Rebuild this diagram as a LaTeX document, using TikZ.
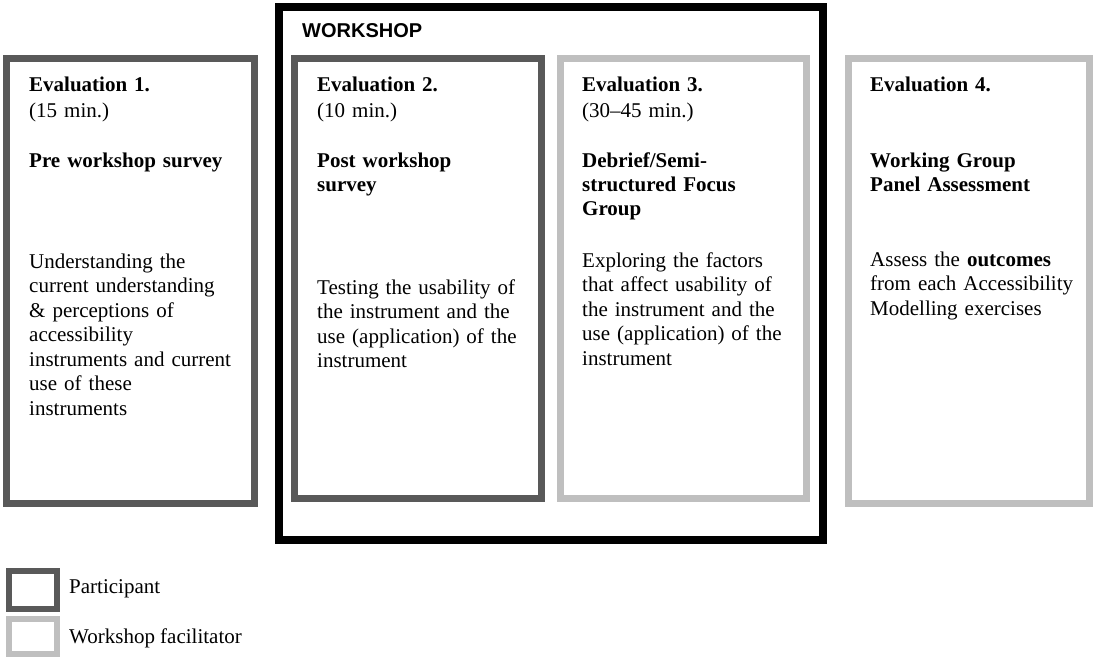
\documentclass[tikz,border=0pt]{standalone}
\usepackage{fontspec}
\setmainfont{Liberation Serif}
\newfontfamily\arialfont{Liberation Sans}
\definecolor{partc}{HTML}{595959}
\definecolor{facc}{HTML}{BFBFBF}
\begin{document}
\begin{tikzpicture}[x=1pt,y=-1pt,
  boxbase/.style={anchor=north west,inner sep=0pt,outer sep=0pt},
  partbox/.style={boxbase,draw=partc,line width=7pt},
  facbox/.style={boxbase,draw=facc,line width=7pt},
  wsbox/.style={boxbase,draw=black,line width=8pt},
  legpart/.style={boxbase,draw=partc,line width=6pt,minimum width=48pt},
  legfac/.style={boxbase,draw=facc,line width=6pt,minimum width=48pt},
  txt/.style={anchor=base west,inner sep=0pt,text width=215pt,align=left,
    font=\fontsize{21}{24.5}\selectfont},
  head/.style={txt,font=\fontsize{21}{26}\selectfont},
  title/.style={txt,font=\bfseries\fontsize{21}{24}\selectfont},
  leg/.style={anchor=base west,inner sep=0pt,font=\fontsize{21}{24.5}\selectfont},
]
\useasboundingbox (0,0) rectangle (1096,657);
\fill[white] (0,0) rectangle (1096,657);

% workshop frame
\node[wsbox,minimum width=544pt,minimum height=533pt] (ws) at (279,7) {};
\node[anchor=base west,inner sep=0pt,font=\arialfont\bfseries\fontsize{20}{24}\selectfont] (wslabel) at (302,37) {WORKSHOP};

% evaluation boxes
\node[partbox,minimum width=248pt,minimum height=445pt] (b1) at (6.5,58.5) {};
\node[partbox,minimum width=247pt,minimum height=440pt] (b2) at (294.5,58.5) {};
\node[facbox,minimum width=246pt,minimum height=440pt] (b3) at (560.5,58.5) {};
\node[facbox,minimum width=241pt,minimum height=445pt] (b4) at (848.5,58.5) {};

% box 1 text
\node[head] (h1) at (29,91) {\textbf{Evaluation 1.}\\(15 min.)};
\node[title] (t1) at (29,167) {Pre workshop survey};
\node[txt] (d1) at (29,268) {Understanding the\\current understanding\\\& perceptions of\\accessibility\\instruments and current\\use of these\\instruments};

% box 2 text
\node[head] (h2) at (317,91) {\textbf{Evaluation 2.}\\(10 min.)};
\node[title] (t2) at (317,167) {Post workshop\\survey};
\node[txt] (d2) at (317,294) {Testing the usability of\\the instrument and the\\use (application) of the\\instrument};

% box 3 text
\node[head] (h3) at (582,91) {\textbf{Evaluation 3.}\\(30\textendash 45 min.)};
\node[title] (t3) at (582,167) {Debrief/Semi-\\structured Focus\\Group};
\node[txt] (d3) at (582,267) {Exploring the factors\\that affect usability of\\the instrument and the\\use (application) of the\\instrument};

% box 4 text
\node[head] (h4) at (870,91) {\textbf{Evaluation 4.}};
\node[title] (t4) at (870,167) {Working Group\\Panel Assessment};
\node[txt] (d4) at (870,266) {Assess the \textbf{outcomes}\\from each Accessibility\\Modelling exercises};

% legend
\node[legpart,minimum height=38pt] (lp) at (9,571) {};
\node[legfac,minimum height=35pt] (lf) at (9,619) {};
\node[leg] (lpt) at (69,593) {Participant};
\node[leg] (lft) at (69,643) {Workshop facilitator};
\end{tikzpicture}
\end{document}
